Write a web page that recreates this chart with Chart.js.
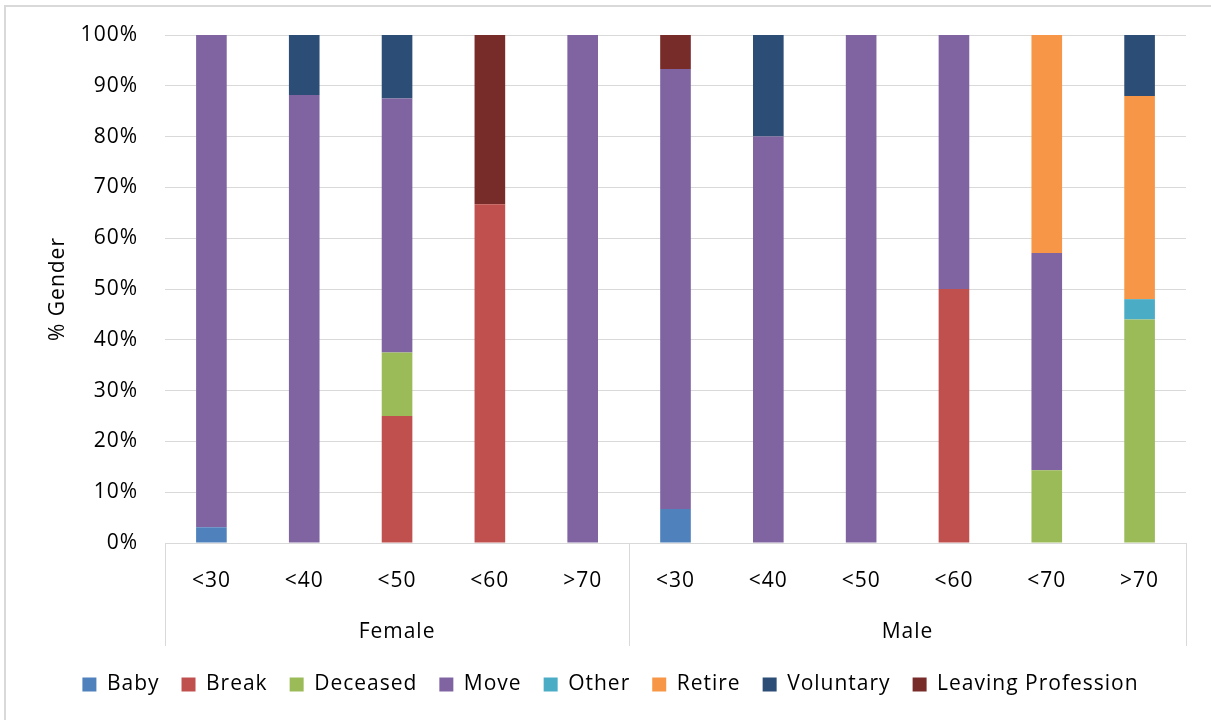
<!DOCTYPE html>
<html>
<head>
<meta charset="utf-8">
<script src="https://cdn.jsdelivr.net/npm/chart.js@4.4.1/dist/chart.umd.min.js"></script>
<style>
  html, body { margin: 0; padding: 0; background: #fff; }
  #wrap { width: 1211px; height: 720px; position: relative; }
</style>
</head>
<body>
<div id="wrap"><canvas id="leavers" width="1211" height="720"></canvas></div>
<script>
// age bands, grouped by gender
var genders = ["Female", "Male"];
var ageBands = ["<30", "<40", "<50", "<60", ">70", "<30", "<40", "<50", "<60", "<70", ">70"];
var genderOfBand = [0, 0, 0, 0, 0, 1, 1, 1, 1, 1, 1];

// share of each reason within the band (%)
var baby      = [3.1, 0, 0, 0, 0, 6.7, 0, 0, 0, 0, 0];
var brk       = [0, 0, 25, 66.7, 0, 0, 0, 0, 50, 0, 0];
var deceased  = [0, 0, 12.5, 0, 0, 0, 0, 0, 0, 14.3, 44];
var move      = [96.9, 88.2, 50, 0, 100, 86.6, 80, 100, 50, 42.8, 0];
var other     = [0, 0, 0, 0, 0, 0, 0, 0, 0, 0, 4];
var retire    = [0, 0, 0, 0, 0, 0, 0, 0, 0, 42.9, 40];
var voluntary = [0, 11.8, 12.5, 0, 0, 0, 20, 0, 0, 0, 12];
var leaving   = [0, 0, 0, 33.3, 0, 6.7, 0, 0, 0, 0, 0];

var yTicks = [0, 10, 20, 30, 40, 50, 60, 70, 80, 90, 100];

var font = "'Open Sans', sans-serif";
var fontSize = 21;
var gridColor = "#d9d9d9";

function series(label, data, color) {
    return {
        label: label,
        data: data,
        backgroundColor: color,
        borderWidth: 0,
        categoryPercentage: 1,
        barPercentage: 0.33
    };
}

// a little tracking on all text, set before layout measures it
var spacing = {
    id: "spacing",
    beforeUpdate: function(chart) { chart.ctx.letterSpacing = "1px"; },
    beforeDraw: function(chart) { chart.ctx.letterSpacing = "1px"; }
};

// gender row under the age labels, with the separators between groups
var genderAxis = {
    id: "genderAxis",
    afterDraw: function(chart) {
        var ctx = chart.ctx;
        var x = chart.scales.x;
        var area = chart.chartArea;
        var step = x.getPixelForValue(1) - x.getPixelForValue(0);
        var lineBottom = area.bottom + 103;
        ctx.save();
        ctx.strokeStyle = gridColor;
        ctx.lineWidth = 1;
        var edges = [0];
        for (var i = 1; i < genderOfBand.length; i++) {
            if (genderOfBand[i] != genderOfBand[i - 1]) edges.push(i);
        }
        edges.push(genderOfBand.length);
        for (var e = 0; e < edges.length; e++) {
            var px = Math.round(x.getPixelForValue(edges[e]) - step / 2) + 0.5;
            ctx.beginPath();
            ctx.moveTo(px, area.bottom);
            ctx.lineTo(px, lineBottom);
            ctx.stroke();
        }
        ctx.fillStyle = "#000";
        ctx.font = fontSize + "px " + font;
        ctx.textAlign = "center";
        ctx.textBaseline = "middle";
        for (var g = 0; g < genders.length; g++) {
            var left = x.getPixelForValue(edges[g]) - step / 2;
            var right = x.getPixelForValue(edges[g + 1]) - step / 2;
            ctx.fillText(genders[g], (left + right) / 2, area.bottom + 89);
        }
        // chart frame (right and bottom edges fall outside the canvas)
        ctx.strokeStyle = gridColor;
        ctx.lineWidth = 2;
        ctx.strokeRect(5, 6, chart.width, chart.height);
        ctx.restore();
    }
};

new Chart(document.getElementById("leavers"), {
    type: "bar",
    data: {
        labels: ageBands,
        datasets: [
            series("Baby", baby, "#4f81bd"),
            series("Break", brk, "#c0504d"),
            series("Deceased", deceased, "#9bbb59"),
            series("Move", move, "#8064a2"),
            series("Other", other, "#4bacc6"),
            series("Retire", retire, "#f79646"),
            series("Voluntary", voluntary, "#2c4d75"),
            series("Leaving Profession", leaving, "#772c2a")
        ]
    },
    options: {
        responsive: false,
        animation: false,
        layout: { padding: { top: 35, right: 25, left: 35, bottom: 15 } },
        plugins: {
            tooltip: { enabled: false },
            legend: {
                position: "bottom",
                labels: {
                    color: "#000",
                    font: { family: font, size: fontSize },
                    boxWidth: 14,
                    boxHeight: 14,
                    padding: 22
                }
            }
        },
        scales: {
            x: {
                stacked: true,
                grid: { display: false },
                border: { color: gridColor, width: 1 },
                ticks: {
                    color: "#000",
                    font: { family: font, size: fontSize },
                    padding: 17,
                    maxRotation: 0,
                    autoSkip: false
                },
                afterFit: function(scale) { scale.height = 109; }
            },
            y: {
                stacked: true,
                min: 0,
                max: 100,
                afterBuildTicks: function(scale) {
                    scale.ticks = yTicks.map(function(v) { return { value: v }; });
                },
                grid: { color: gridColor, lineWidth: 1, drawTicks: false },
                border: { display: false },
                ticks: {
                    color: "#000",
                    font: { family: font, size: fontSize },
                    padding: 27,
                    callback: function(v) { return v + "%"; }
                },
                title: {
                    display: true,
                    text: "% Gender",
                    color: "#000",
                    font: { family: font, size: fontSize },
                    padding: 10
                },
                afterFit: function(scale) {
                    scale.width = 130;
                    // tick padding should not push the plot down
                    scale.paddingTop = 0;
                    scale.paddingBottom = 0;
                }
            }
        }
    },
    plugins: [spacing, genderAxis]
});
</script>
</body>
</html>
